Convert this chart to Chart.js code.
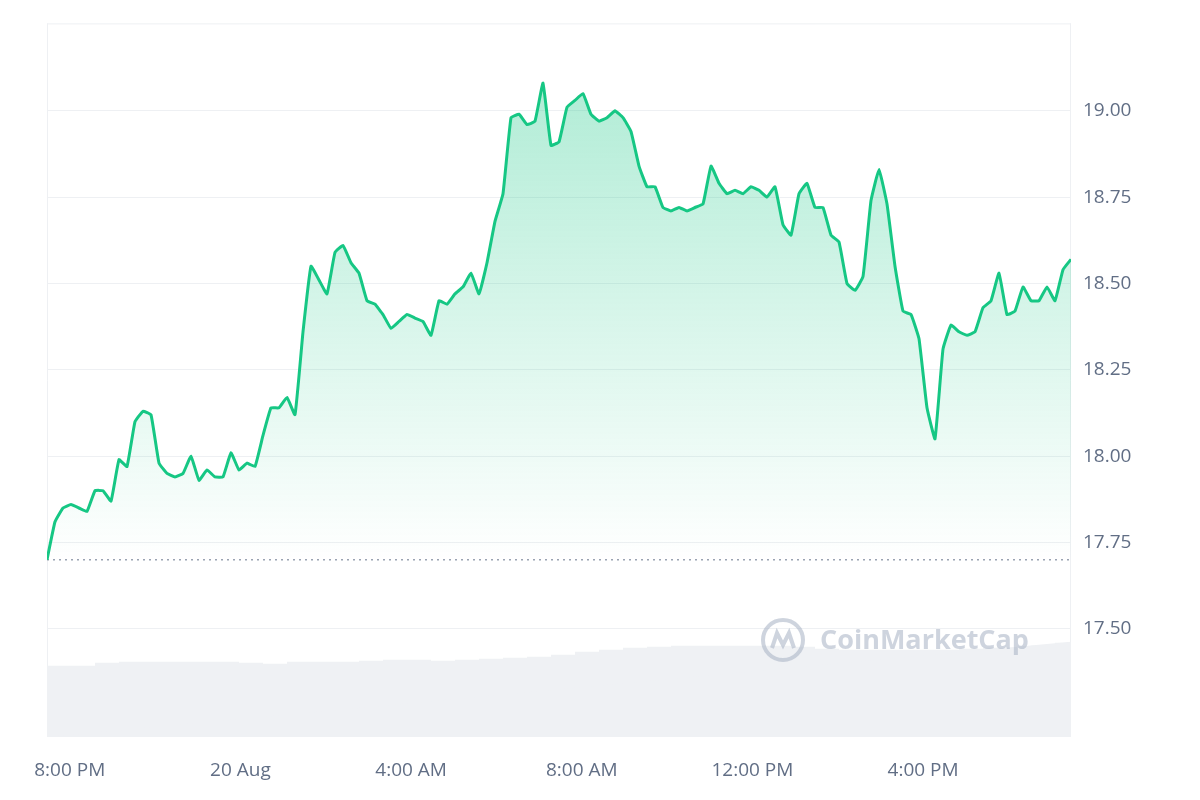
<!DOCTYPE html>
<html>
<head>
<meta charset="utf-8">
<script src="https://cdn.jsdelivr.net/npm/chart.js@4"></script>
<style>
  html, body { margin: 0; padding: 0; background: #fff; }
  #wrap { width: 1200px; height: 800px; }
</style>
</head>
<body>
<div id="wrap"><canvas id="priceChart"></canvas></div>
<script>
// minutes since 19 Aug 00:00, one sample every 11.25 min
var startMinute = 1168;
var stepMinutes = 11.25;

var prices = [17.70, 17.81, 17.85, 17.86, 17.85, 17.84, 17.90, 17.90, 17.87, 17.99,
  17.97, 18.10, 18.13, 18.12, 17.98, 17.95, 17.94, 17.95, 18.00, 17.93,
  17.96, 17.94, 17.94, 18.01, 17.96, 17.98, 17.97, 18.06, 18.14, 18.14,
  18.17, 18.12, 18.36, 18.55, 18.51, 18.47, 18.59, 18.61, 18.56, 18.53,
  18.45, 18.44, 18.41, 18.37, 18.39, 18.41, 18.40, 18.39, 18.35, 18.45,
  18.44, 18.47, 18.49, 18.53, 18.47, 18.56, 18.68, 18.76, 18.98, 18.99,
  18.96, 18.97, 19.08, 18.90, 18.91, 19.01, 19.03, 19.05, 18.99, 18.97,
  18.98, 19.00, 18.98, 18.94, 18.84, 18.78, 18.78, 18.72, 18.71, 18.72,
  18.71, 18.72, 18.73, 18.84, 18.79, 18.76, 18.77, 18.76, 18.78, 18.77,
  18.75, 18.78, 18.67, 18.64, 18.76, 18.79, 18.72, 18.72, 18.64, 18.62,
  18.50, 18.48, 18.52, 18.74, 18.83, 18.73, 18.55, 18.42, 18.41, 18.34,
  18.14, 18.05, 18.31, 18.38, 18.36, 18.35, 18.36, 18.43, 18.45, 18.53,
  18.41, 18.42, 18.49, 18.45, 18.45, 18.49, 18.45, 18.54, 18.57];

// volume (relative), sampled every 3 price steps
var volumes = [72, 72, 75, 76, 76, 76, 76, 76, 75, 74, 76, 76, 76, 77, 78, 78, 77, 78,
  79, 80, 81, 83, 86, 88, 90, 91, 92, 92, 92, 92, 92, 91, 89, 88, 88, 88, 88, 88, 89, 90, 90, 92, 95, 98, 99];
var volumeStep = 3;

var openPrice = 17.70;
var yTicks = [17.50, 17.75, 18.00, 18.25, 18.50, 18.75, 19.00];
var xTicks = [1200, 1440, 1680, 1920, 2160, 2400];
var xTickLabels = ["8:00 PM", "20 Aug", "4:00 AM", "8:00 AM", "12:00 PM", "4:00 PM"];

var pricePoints = prices.map((p, i) => ({ x: startMinute + i * stepMinutes, y: p }));
var volumePoints = volumes.map((v, i) => ({ x: startMinute + i * volumeStep * stepMinutes, y: v }));
var endMinute = startMinute + (prices.length - 1) * stepMinutes;
volumePoints.push({ x: endMinute, y: volumes[volumes.length - 1] });

var frame = {
  id: 'frame',
  beforeDatasetsDraw(chart) {
    var a = chart.chartArea, c = chart.ctx;
    c.save();
    c.strokeStyle = '#eef0f3';
    c.lineWidth = 1;
    c.beginPath();
    c.moveTo(a.left + 0.5, a.top); c.lineTo(a.left + 0.5, a.bottom);
    c.moveTo(a.right - 0.5, a.top); c.lineTo(a.right - 0.5, a.bottom);
    c.moveTo(a.left, a.top + 0.5); c.lineTo(a.right, a.top + 0.5);
    c.stroke();
    c.restore();
  },
  afterDatasetsDraw(chart) {
    var c = chart.ctx;
    c.save();
    c.globalAlpha = 0.55;
    c.strokeStyle = '#a6b0c3';
    c.lineWidth = 4;
    c.beginPath(); c.arc(783, 640, 20, 0, Math.PI * 2); c.stroke();
    c.beginPath();
    c.moveTo(772, 648); c.lineTo(777, 633); c.lineTo(783, 645); c.lineTo(789, 633); c.lineTo(794, 648);
    c.stroke();
    c.fillStyle = '#a6b0c3';
    c.font = 'bold 27px "Open Sans", sans-serif';
    c.textBaseline = 'middle';
    c.fillText('CoinMarketCap', 820, 641);
    c.restore();
  }
};

var ctx = document.getElementById('priceChart').getContext('2d');
var priceChart = new Chart(ctx, {
  type: 'line',
  data: {
    datasets: [
      {
        label: 'Price',
        data: pricePoints,
        yAxisID: 'y',
        borderColor: '#16c784',
        borderWidth: 3,
        pointRadius: 0,
        tension: 0.1,
        fill: 'start',
        backgroundColor: (c) => {
          var a = c.chart.chartArea;
          if (!a) return 'rgba(22,199,132,0.2)';
          var g = c.chart.ctx.createLinearGradient(0, 60, 0, 560);
          g.addColorStop(0, 'rgba(22,199,132,0.35)');
          g.addColorStop(1, 'rgba(22,199,132,0)');
          return g;
        },
        order: 1
      },
      {
        label: 'Open',
        data: [{ x: startMinute, y: openPrice }, { x: endMinute, y: openPrice }],
        yAxisID: 'y',
        borderColor: '#9aa3b2',
        borderWidth: 1.5,
        borderDash: [2, 4],
        pointRadius: 0,
        fill: false,
        order: 2
      },
      {
        label: 'Volume',
        data: volumePoints,
        yAxisID: 'vol',
        borderWidth: 0,
        pointRadius: 0,
        stepped: true,
        fill: 'start',
        backgroundColor: '#eff1f4',
        order: 3
      }
    ]
  },
  options: {
    responsive: true,
    maintainAspectRatio: false,
    animation: false,
    layout: { padding: { left: 47, top: 13 } },
    plugins: { legend: { display: false }, tooltip: { enabled: false } },
    scales: {
      x: {
        type: 'linear',
        min: startMinute,
        max: endMinute,
        afterBuildTicks: (s) => { s.ticks = xTicks.map((v) => ({ value: v })); },
        afterFit: (s) => { s.height = 63; },
        grid: { display: false },
        border: { display: false },
        ticks: {
          color: '#616e85',
          font: { size: 19, family: '"Open Sans", sans-serif' },
          maxRotation: 0,
          padding: 14,
          callback: (v) => xTickLabels[xTicks.indexOf(v)]
        }
      },
      y: {
        position: 'right',
        min: 17.187,
        max: 19.253,
        afterBuildTicks: (s) => { s.ticks = yTicks.map((v) => ({ value: v })); },
        afterFit: (s) => { s.width = 129; },
        grid: { color: '#eef0f3', drawTicks: false },
        border: { display: false },
        ticks: {
          color: '#616e85',
          font: { size: 19, family: '"Open Sans", sans-serif' },
          padding: 12,
          callback: (v) => v.toFixed(2)
        }
      },
      vol: {
        display: false,
        min: 0,
        max: 720
      }
    }
  },
  plugins: [frame]
});
</script>
</body>
</html>
